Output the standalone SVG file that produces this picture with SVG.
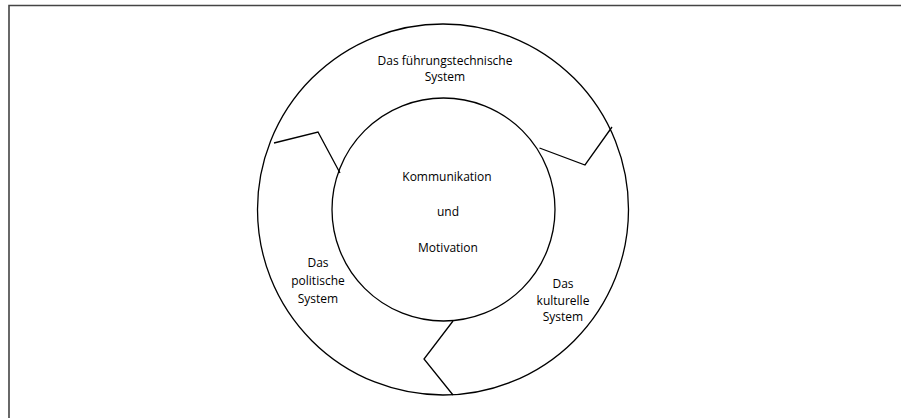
<svg xmlns="http://www.w3.org/2000/svg" width="906" height="418" viewBox="0 0 906 418">
<style>
.ln{fill:none;stroke:#000;stroke-width:1.3}
.fr{fill:none;stroke:#444;stroke-width:1.6}
text{font-family:"Open Sans","Liberation Sans",sans-serif;font-size:12px;fill:#000;text-anchor:middle}
</style>
<rect width="906" height="418" fill="#fff"/>
<g id="frame"><path class="fr" d="M9,418 V5.5 H901"/></g>
<g id="outer"><circle class="ln" cx="443" cy="209.5" r="185.5"/></g>
<g id="inner"><circle class="ln" cx="443.5" cy="209.5" r="111.5"/>
<text x="447" y="181">Kommunikation</text>
<text x="448" y="216">und</text>
<text x="448" y="252">Motivation</text></g>
<g id="connectors">
<polyline class="ln" points="274,143 318,132 340,173"/>
<polyline class="ln" points="612,127 585,165 539.5,148"/>
<polyline class="ln" points="453,321 424,359 453,395"/>
</g>
<g id="top"><text x="445" y="65">Das führungstechnische</text><text x="445" y="81">System</text></g>
<g id="left"><text x="318" y="267">Das</text><text x="318" y="285">politische</text><text x="318" y="303">System</text></g>
<g id="right"><text x="563" y="288">Das</text><text x="563" y="305">kulturelle</text><text x="563" y="321">System</text></g>
</svg>
